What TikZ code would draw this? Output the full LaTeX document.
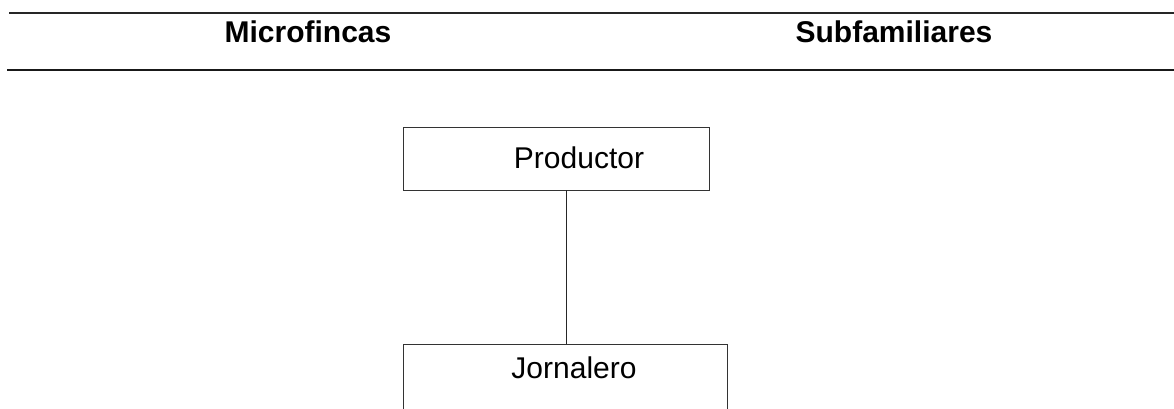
\documentclass[tikz,border=0pt]{standalone}
\usepackage{fontspec}
\setmainfont{Liberation Sans}
\usepackage{tikz}
\usetikzlibrary{calc,positioning}

\tikzset{
	rolebox/.style={draw=black!80,line width=0.9pt,rectangle,inner sep=0pt},
	rolelbl/.style={anchor=base,font=\fontsize{30}{36}\selectfont},
	headlbl/.style={anchor=base,font=\fontsize{30}{36}\selectfont\bfseries}
}

\begin{document}
\begin{tikzpicture}[x=1pt,y=1pt]
	\useasboundingbox (0,0) rectangle (1174,408);
	\clip (0,0) rectangle (1174,408);
	
	%header rules
	\draw[line width=1.6pt,black!85] (9,395)--(1174,395);		%top
	\draw[line width=1.6pt,black!90] (7,338)--(1174,338);		%bottom
		\node[headlbl] (microfincas) at (308,365) {Microfincas};
		\node[headlbl] (subfamiliares) at (894,365) {Subfamiliares};
	
	%boxes
	\node[rolebox,minimum width=306pt,minimum height=63pt] (productor) at (556,249.5) {};
	\node[rolebox,minimum width=324pt,minimum height=90pt] (jornalero) at (565,19) {};
		\node[rolelbl] (productorlbl) at (579,240) {Productor};
		\node[rolelbl] (jornalerolbl) at (574,30) {Jornalero};
	
	%link
	\draw[line width=0.9pt,black!85] (566,0 |- productor.south)--(566,0 |- jornalero.north);
	
\end{tikzpicture}
\end{document}
